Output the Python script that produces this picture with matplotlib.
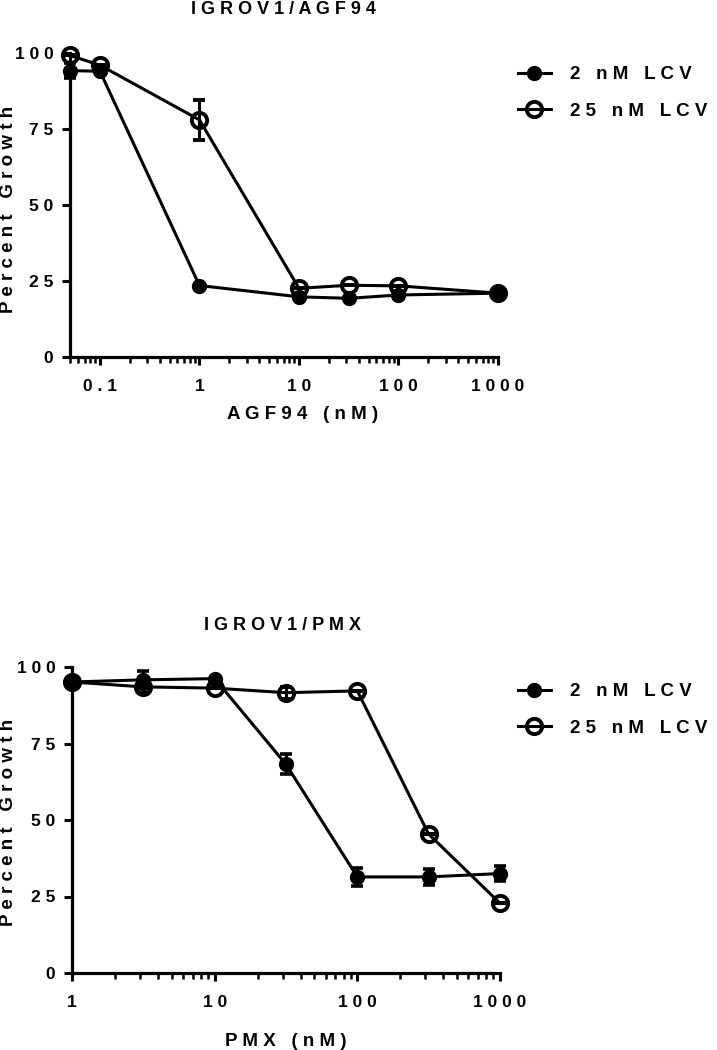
import numpy as np
import matplotlib
matplotlib.use('Agg')
import matplotlib.pyplot as plt
from matplotlib.lines import Line2D
from matplotlib.ticker import FixedLocator, FixedFormatter, LogLocator, NullFormatter

plt.rcParams['font.family'] = ['Liberation Sans', 'DejaVu Sans']
plt.rcParams['font.weight'] = 'bold'

# data
agf_x = [0.05, 0.1, 1, 10, 31.6, 100, 1000]
agf_2nm = [94.2, 94.0, 23.5, 19.8, 19.3, 20.4, 21.0]
agf_2nm_err = [2.5, 0.5, 0.5, 0.5, 0.5, 0.5, 0.5]
agf_25nm = [99.2, 96.0, 78.0, 22.6, 23.6, 23.4, 21.0]
agf_25nm_err = [0, 0, 6.5, 0, 0, 0, 0]

pmx_x = [1, 3.16, 10, 31.6, 100, 316, 1000]
pmx_2nm = [95.1, 95.8, 96.2, 68.2, 31.4, 31.4, 32.5]
pmx_2nm_err = [0, 3.0, 0.5, 3.3, 3.0, 2.7, 2.5]
pmx_25nm = [95.1, 93.5, 93.1, 91.6, 92.2, 45.4, 22.8]
pmx_25nm_err = [0, 2.0, 0, 2.0, 0, 0, 0]

series_labels = ['2 nM LCV', '25 nM LCV']
y_ticks = [0, 25, 50, 75, 100]


def spaced(s):
    # GraphPad-style letter spacing
    return ' '.join(s)


W, H = 717, 1050
fig = plt.figure(figsize=(W / 100, H / 100), dpi=100)


def panel(rect, x, y2, e2, y25, e25, xlim, xticks, title, xlabel,
          title_y, xlabel_y, xlabel_x, ylabel_y, leg_y):
    ax = fig.add_axes([rect[0] / W, 1 - rect[3] / H,
                       (rect[2] - rect[0]) / W, (rect[3] - rect[1]) / H])
    ax.set_xscale('log')
    ax.errorbar(x, y25, yerr=e25, fmt='o', ls='-', color='black',
                mfc='none', mec='black', mew=2.8, ms=11, lw=2.2,
                elinewidth=2.2, capsize=4.5, capthick=2.6, zorder=3,
                clip_on=False)
    ax.errorbar(x, y2, yerr=e2, fmt='o', ls='-', color='black',
                ms=10, lw=2.2, elinewidth=2.2, capsize=4.5, capthick=2.6,
                zorder=4, clip_on=False)
    ax.set_xlim(*xlim)
    ax.set_ylim(0, 100)
    for s in ['top', 'right']:
        ax.spines[s].set_visible(False)
    for s in ['left', 'bottom']:
        ax.spines[s].set_linewidth(2.3)
    ax.yaxis.set_major_locator(FixedLocator(y_ticks))
    ax.yaxis.set_major_formatter(FixedFormatter([spaced(str(v)) for v in y_ticks]))
    ax.xaxis.set_major_locator(FixedLocator(xticks))
    ax.xaxis.set_major_formatter(FixedFormatter([spaced(str(v)) for v in xticks]))
    ax.xaxis.set_minor_locator(LogLocator(base=10, subs=np.arange(2, 10)))
    ax.xaxis.set_minor_formatter(NullFormatter())
    ax.tick_params(axis='y', which='major', length=6, width=2.2, pad=6, labelsize=12.5)
    ax.tick_params(axis='x', which='major', length=6, width=2.2, pad=10, labelsize=12.5)
    ax.tick_params(axis='x', which='minor', length=4, width=1.8)
    for lab in ax.get_xticklabels() + ax.get_yticklabels():
        lab.set_fontweight('bold')

    fig.text(283 / W, 1 - title_y / H, spaced(title), ha='center', va='center',
             fontsize=13, fontweight='bold')
    fig.text(xlabel_x / W, 1 - xlabel_y / H, spaced(xlabel), ha='center',
             va='center', fontsize=13.5, fontweight='bold')
    fig.text(9 / W, 1 - ylabel_y / H, spaced('Percent Growth'), ha='center',
             va='center', rotation=90, fontsize=13.5, fontweight='bold')

    handles = [Line2D([], [], color='black', lw=2.2, marker='o', ms=10),
               Line2D([], [], color='black', lw=2.2, marker='o', ms=11,
                      mfc='none', mew=2.8)]
    leg = fig.legend(handles, [spaced(l) for l in series_labels],
                     loc='upper left', bbox_to_anchor=(518 / W, 1 - leg_y / H),
                     frameon=False, fontsize=13.5, handlelength=1.75,
                     handletextpad=1.0, labelspacing=1.05, borderpad=0,
                     borderaxespad=0)
    for t in leg.get_texts():
        t.set_fontweight('bold')
    return ax


panel((70, 53, 498, 357), agf_x, agf_2nm, agf_2nm_err, agf_25nm, agf_25nm_err,
      (0.05, 1000), [0.1, 1, 10, 100, 1000], 'IGROV1/AGF94', 'AGF94 (nM)',
      title_y=9, xlabel_y=415, xlabel_x=303, ylabel_y=209, leg_y=66)
panel((72, 667, 500, 973), pmx_x, pmx_2nm, pmx_2nm_err, pmx_25nm, pmx_25nm_err,
      (1, 1000), [1, 10, 100, 1000], 'IGROV1/PMX', 'PMX (nM)',
      title_y=625, xlabel_y=1042, xlabel_x=286, ylabel_y=822, leg_y=683)

fig.savefig('out.png', dpi=100)
